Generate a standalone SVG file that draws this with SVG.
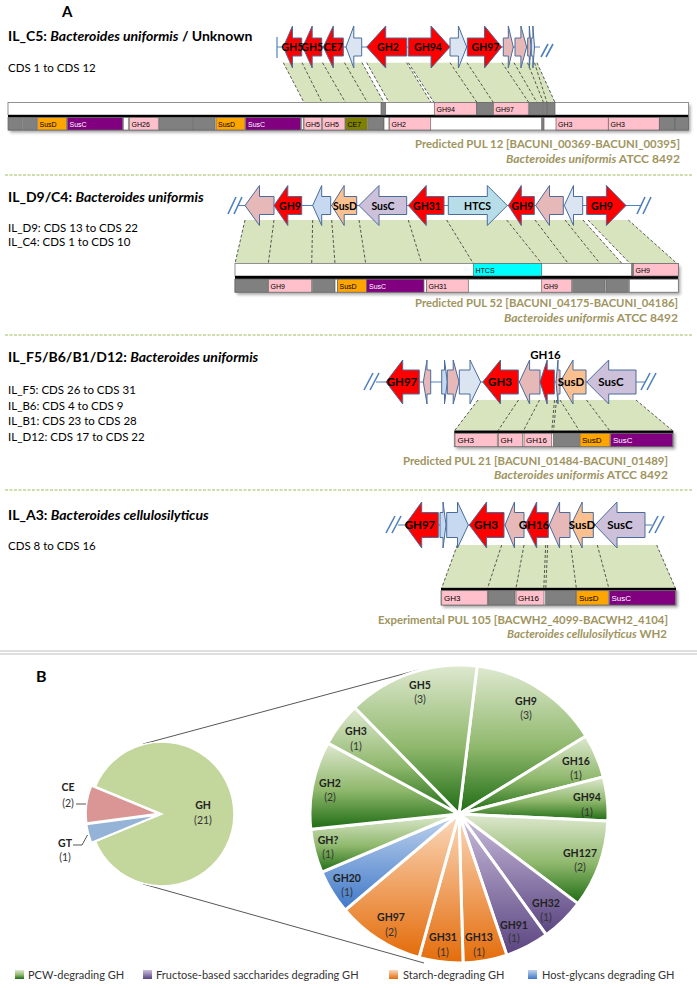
<svg xmlns="http://www.w3.org/2000/svg" width="697" height="988" viewBox="0 0 697 988">
<defs>
<style>
text{font-family:Lato,'Liberation Sans',sans-serif;fill:#000}
.ttl{font-size:14px;font-weight:bold}
.sub{font-size:11.5px}
.cap{font-size:11.5px;font-weight:bold;fill:#a0955f;text-anchor:end}
.al{font-size:10.5px;font-weight:bold;text-anchor:middle}
.al2{font-size:11.5px;font-weight:bold;text-anchor:middle}
.ml{font-family:'Liberation Sans',Arial,sans-serif;font-size:7px}
.ml2{font-family:'Liberation Sans',Arial,sans-serif;font-size:8px}
.mw{fill:#fff}
.ar{stroke:#4a6c9b;stroke-width:1}
.red{fill:#ff0000}.pk{fill:#e6b9b8}.lb{fill:#dbe5f1}.lb2{fill:#c6d9f1}.sd{fill:#fac090}.sc{fill:#ccc0da}.ht{fill:#b7dee8}
.bl{stroke:#4f81bd;stroke-width:1.2;fill:none}
.brk{stroke:#4f81bd;stroke-width:1.6;fill:none}
.gr{fill:#d7e4bd}
.ds{stroke:#333;stroke-width:0.8;stroke-dasharray:3,2;fill:none}
.ws{fill:#fff}
.sep{stroke:#9bbb59;stroke-width:1;stroke-dasharray:3,1.5}
.row{fill:#fff;stroke:#777;stroke-width:0.8}
.bx rect{stroke:#666;stroke-width:0.7}
.g{fill:#808080}.p{fill:#ffc0cb}.o{fill:#ffa500}.pu{fill:#800080}.ol{fill:#808000}.cy{fill:#00ffff}.w{fill:#fff}
.sl{stroke:#fff;stroke-width:3;stroke-linejoin:round}
.pl{font-size:10.5px;font-weight:bold;text-anchor:middle;fill:#222}
.pc{font-size:10.5px;text-anchor:middle;fill:#333}
.lg{font-size:11px;fill:#333}
.cl{stroke:#444;stroke-width:0.9;fill:none}
</style>
<filter id="sh" x="-5%" y="-60%" width="110%" height="220%"><feDropShadow dx="2" dy="2.5" stdDeviation="1.5" flood-color="#000" flood-opacity="0.35"/></filter>
<linearGradient id="gG" x1="0" y1="0" x2="0" y2="1"><stop offset="0" stop-color="#dfe9d0"/><stop offset="0.55" stop-color="#8fb86c"/><stop offset="1" stop-color="#1d6b12"/></linearGradient>
<linearGradient id="gP" x1="0" y1="0" x2="0" y2="1"><stop offset="0" stop-color="#cbbfdd"/><stop offset="1" stop-color="#5a4480"/></linearGradient>
<linearGradient id="gO" x1="0" y1="0" x2="0" y2="1"><stop offset="0" stop-color="#fbd9bd"/><stop offset="1" stop-color="#e46c0a"/></linearGradient>
<linearGradient id="gB" x1="0" y1="0" x2="0" y2="1"><stop offset="0" stop-color="#c0d4ee"/><stop offset="1" stop-color="#3f78c8"/></linearGradient>
</defs>
<rect width="697" height="988" fill="#fff"/>

<text x="62" y="17" style="font-size:15px;font-weight:bold">A</text>

<!-- separators -->
<g id="separators">
<line class="sep" x1="5" y1="175" x2="692" y2="175"/>
<line class="sep" x1="5" y1="335" x2="692" y2="335"/>
<line class="sep" x1="5" y1="490" x2="692" y2="490"/>
<line x1="0" y1="651" x2="697" y2="651" stroke="#bfbfbf" stroke-width="1"/>
<line x1="0" y1="654" x2="697" y2="654" stroke="#bfbfbf" stroke-width="1"/>
</g>

<!-- Section 1 -->
<g id="sec1-text">
<text class="ttl" x="8" y="41">IL_C5: <tspan font-style="italic">Bacteroides uniformis</tspan> / Unknown</text>
<text class="sub" x="8" y="72">CDS 1 to CDS 12</text>
<text class="cap" x="680" y="148" textLength="265" lengthAdjust="spacingAndGlyphs">Predicted PUL 12 [BACUNI_00369-BACUNI_00395]</text>
<text class="cap" x="680" y="162.5" textLength="174" lengthAdjust="spacingAndGlyphs"><tspan font-style="italic">Bacteroides uniformis</tspan> ATCC 8492</text>
</g>
<g id="sec1-connectors">
<polygon class="gr" points="283.3,62.7 537,62.7 555,102.5 304,102.5"/>
<polygon class="ws" points="362,62.7 366.7,62.7 389,102.5 384,102.5"/>
<polygon class="ws" points="406.7,62.7 408.3,62.7 434,102.5 431,102.5"/>
<path class="ds" d="M283.3,62.7L304,102.5M302,62.7L322,102.5M322.5,62.7L345.5,102.5M344.5,62.7L367.5,102.5M362,62.7L384,102.5M366.7,62.7L389,102.5M406.7,62.7L431,102.5M408.3,62.7L434,102.5M450,62.7L477,102.5M467,62.7L493.3,102.5M502,62.7L528.8,102.5M514,62.7L537,102.5M527.5,62.7L543.5,102.5M534.5,62.7L547,102.5M537,62.7L555,102.5"/>
</g>
<g id="sec1-genes">
<line class="bl" x1="277" y1="47" x2="540" y2="47"/>
<line class="bl" x1="277" y1="37" x2="277" y2="58"/>
<path class="brk" d="M541,57L548,44M546,57L553,44"/>
<g class="ar">
<polygon class="red" points="283.3,47 292.5,26 292.5,38 301.7,38 301.7,56 292.5,56 292.5,68"/>
<polygon class="red" points="302.7,47 312.2,26 312.2,38 321.7,38 321.7,56 312.2,56 312.2,68"/>
<polygon class="red" points="323.3,47 333.3,26 333.3,38 343.3,38 343.3,56 333.3,56 333.3,68"/>
<polygon class="lb" points="346,47 353.8,26 353.8,38 361.7,38 361.7,56 353.8,56 353.8,68"/>
<polygon class="red" points="366.7,47 385.7,26 385.7,38 406.7,38 406.7,56 385.7,56 385.7,68"/>
<polygon class="red" points="450,47 431,26 431,38 408.3,38 408.3,56 431,56 431,68"/>
<polygon class="lb" points="466.7,47 458.4,26 458.4,38 450,38 450,56 458.4,56 458.4,68"/>
<polygon class="red" points="501.7,47 484.5,26 484.5,38 467.3,38 467.3,56 484.5,56 484.5,68"/>
<polygon class="pk" points="513.3,47 508.3,26 508.3,38 503.3,38 503.3,56 508.3,56 508.3,68"/>
<polygon class="pk" points="526.7,47 520.9,26 520.9,38 515,38 515,56 520.9,56 520.9,68"/>
<polygon class="pk" points="531,47 529.3,26 529.3,38 527.7,38 527.7,56 529.3,56 529.3,68"/>
<polygon class="lb" points="534.5,47 532.9,26 532.9,38 531.3,38 531.3,56 532.9,56 532.9,68"/>
</g>
<text class="al" x="292.5" y="51">GH5</text>
<text class="al" x="312.2" y="51">GH5</text>
<text class="al" x="333.3" y="51">CE7</text>
<text class="al" x="388" y="51">GH2</text>
<text class="al" x="428" y="51">GH94</text>
<text class="al" x="485.5" y="51">GH97</text>
</g>
<g id="sec1-map">
<rect x="8" y="102.5" width="680.5" height="27.5" fill="#fff" filter="url(#sh)"/>
<rect class="row" x="8" y="102.5" width="680.5" height="12.5"/>
<rect x="8" y="115" width="680.5" height="2.5" fill="#000"/>
<rect class="row" x="8" y="117.5" width="680.5" height="12.5"/>
<g class="bx">
<rect class="g" x="381" y="102.5" width="4.7" height="12.5"/>
<rect class="p" x="434.3" y="102.5" width="42.4" height="12.5"/>
<rect class="g" x="476.7" y="102.5" width="16.6" height="12.5"/>
<rect class="p" x="493.3" y="102.5" width="35" height="12.5"/>
<rect class="g" x="529.3" y="102.5" width="13.4" height="12.5"/>
<rect class="g" x="543.5" y="102.5" width="3" height="12.5"/>
<rect class="g" x="547" y="102.5" width="8" height="12.5"/>
<rect class="g" x="8.5" y="117.5" width="13.2" height="12.5"/>
<rect class="g" x="22.7" y="117.5" width="14" height="12.5"/>
<rect class="o" x="37.7" y="117.5" width="29" height="12.5"/>
<rect class="pu" x="67.3" y="117.5" width="55.4" height="12.5"/>
<rect class="w" x="123.3" y="117.5" width="5" height="12.5"/>
<rect class="p" x="129.3" y="117.5" width="29" height="12.5"/>
<rect class="g" x="159.3" y="117.5" width="33.4" height="12.5"/>
<rect class="g" x="193.3" y="117.5" width="21.7" height="12.5"/>
<rect class="o" x="216" y="117.5" width="29" height="12.5"/>
<rect class="pu" x="245.7" y="117.5" width="55" height="12.5"/>
<rect class="w" x="301.7" y="117.5" width="1.6" height="12.5"/>
<rect class="p" x="304" y="117.5" width="17.7" height="12.5"/>
<rect class="p" x="322.7" y="117.5" width="22.3" height="12.5"/>
<rect class="ol" x="345.5" y="117.5" width="21.8" height="12.5"/>
<rect class="g" x="368.3" y="117.5" width="15.7" height="12.5"/>
<rect class="w" x="384" y="117.5" width="5" height="12.5"/>
<rect class="p" x="389.3" y="117.5" width="41.4" height="12.5"/>
<rect class="g" x="541.7" y="117.5" width="2.3" height="12.5"/>
<rect class="p" x="556" y="117.5" width="52.3" height="12.5"/>
<rect class="p" x="608.3" y="117.5" width="51" height="12.5"/>
<rect class="g" x="659.3" y="117.5" width="15.7" height="12.5"/>
<rect class="g" x="675" y="117.5" width="13.5" height="12.5"/>
</g>
<text class="ml" x="436.5" y="111.5">GH94</text>
<text class="ml" x="495.5" y="111.5">GH97</text>
<text class="ml" x="39.5" y="126.5">SusD</text>
<text class="ml mw" x="69.5" y="126.5">SusC</text>
<text class="ml" x="131.5" y="126.5">GH26</text>
<text class="ml" x="218" y="126.5">SusD</text>
<text class="ml mw" x="248" y="126.5">SusC</text>
<text class="ml" x="305.5" y="126.5">GH5</text>
<text class="ml" x="324.5" y="126.5">GH5</text>
<text class="ml" x="347.5" y="126.5">CE7</text>
<text class="ml" x="391.5" y="126.5">GH2</text>
<text class="ml" x="558" y="126.5">GH3</text>
<text class="ml" x="610.5" y="126.5">GH3</text>
</g>

<!-- Section 2 -->
<g id="sec2-text">
<text class="ttl" x="8" y="202">IL_D9/C4: <tspan font-style="italic">Bacteroides uniformis</tspan></text>
<text class="sub" x="8" y="232">IL_D9: CDS 13 to CDS 22</text>
<text class="sub" x="8" y="246">IL_C4: CDS 1 to CDS 10</text>
<text class="cap" x="678" y="307" textLength="263" lengthAdjust="spacingAndGlyphs">Predicted PUL 52 [BACUNI_04175-BACUNI_04186]</text>
<text class="cap" x="678" y="321.5" textLength="174" lengthAdjust="spacingAndGlyphs"><tspan font-style="italic">Bacteroides uniformis</tspan> ATCC 8492</text>
</g>
<g id="sec2-connectors">
<polygon class="gr" points="245,220 628.3,220 677,263.5 235,263.5"/>
<polygon class="ws" points="583,220 588,220 630,263.5 622,263.5"/>
<path class="ds" d="M245,220L235,263.5M274,220L268.3,263.5M312.7,220L311.7,263.5M331.7,220L335,263.5M359,220L365.7,263.5M408.3,220L421.7,263.5M446.7,220L473.3,263.5M506.7,220L541.7,263.5M535,220L568.3,263.5M565,220L600,263.5M583,220L622,263.5M588,220L630,263.5M628.3,220L677,263.5"/>
</g>
<g id="sec2-genes">
<line class="bl" x1="238" y1="205.5" x2="642" y2="205.5"/>
<path class="brk" d="M228,214L236,197M234,214L242,197M637,214L645,197M643,214L651,197"/>
<g class="ar">
<polygon class="pk" points="245,205.5 259.5,185.5 259.5,196.5 274,196.5 274,214.5 259.5,214.5 259.5,225.5"/>
<polygon class="red" points="274,205.5 287.8,185.5 287.8,196.5 301.7,196.5 301.7,214.5 287.8,214.5 287.8,225.5"/>
<polygon class="lb2" points="312.7,205.5 321.7,185.5 321.7,196.5 330.7,196.5 330.7,214.5 321.7,214.5 321.7,225.5"/>
<polygon class="sd" points="331.7,205.5 344.2,185.5 344.2,196.5 356.7,196.5 356.7,214.5 344.2,214.5 344.2,225.5"/>
<polygon class="sc" points="359,205.5 379,185.5 379,196.5 406.7,196.5 406.7,214.5 379,214.5 379,225.5"/>
<polygon class="red" points="408.3,205.5 426.2,185.5 426.2,196.5 444,196.5 444,214.5 426.2,214.5 426.2,225.5"/>
<polygon class="ht" points="507.3,205.5 487.3,185.5 487.3,196.5 448.3,196.5 448.3,214.5 487.3,214.5 487.3,225.5"/>
<polygon class="red" points="508.3,205.5 521.3,185.5 521.3,196.5 534.3,196.5 534.3,214.5 521.3,214.5 521.3,225.5"/>
<polygon class="pk" points="535.7,205.5 549.5,185.5 549.5,196.5 563.3,196.5 563.3,214.5 549.5,214.5 549.5,225.5"/>
<polygon class="lb" points="564.3,205.5 573.5,185.5 573.5,196.5 582.7,196.5 582.7,214.5 573.5,214.5 573.5,225.5"/>
<polygon class="red" points="626,205.5 606.4,185.5 606.4,196.5 586.7,196.5 586.7,214.5 606.4,214.5 606.4,225.5"/>
</g>
<text class="al" x="290" y="209.5">GH9</text>
<text class="al" x="345" y="209.5">SusD</text>
<text class="al" x="383" y="209.5">SusC</text>
<text class="al" x="427" y="209.5">GH31</text>
<text class="al" x="477.5" y="209.5">HTCS</text>
<text class="al" x="522.5" y="209.5">GH9</text>
<text class="al" x="602" y="209.5">GH9</text>
</g>
<g id="sec2-map">
<rect x="235" y="263.5" width="443.3" height="28.7" fill="#fff" filter="url(#sh)"/>
<rect class="row" x="235" y="263.5" width="443.3" height="12.5"/>
<rect x="235" y="276" width="443.3" height="3.2" fill="#000"/>
<rect class="row" x="235" y="279.2" width="443.3" height="13"/>
<g class="bx">
<rect class="cy" x="473.3" y="263.5" width="68.4" height="12.5"/>
<rect class="g" x="631.7" y="263.5" width="1.6" height="12.5"/>
<rect class="p" x="633.3" y="263.5" width="45" height="12.5"/>
<rect class="g" x="235" y="279.2" width="33.3" height="13"/>
<rect class="p" x="268.3" y="279.2" width="43.4" height="13"/>
<rect class="g" x="312.7" y="279.2" width="22.3" height="13"/>
<rect class="w" x="335" y="279.2" width="2.7" height="13"/>
<rect class="o" x="337.7" y="279.2" width="29" height="13"/>
<rect class="pu" x="366.7" y="279.2" width="57.3" height="13"/>
<rect class="w" x="424" y="279.2" width="2.7" height="13"/>
<rect class="p" x="426.7" y="279.2" width="41.6" height="13"/>
<rect class="p" x="541.7" y="279.2" width="30" height="13"/>
<rect class="g" x="572.7" y="279.2" width="32.3" height="13"/>
<rect class="g" x="606" y="279.2" width="22.3" height="13"/>
<rect class="w" x="629.3" y="279.2" width="49" height="13"/>
</g>
<text class="ml" x="475.5" y="272.5">HTCS</text>
<text class="ml" x="635.5" y="272.5">GH9</text>
<text class="ml" x="270.5" y="288.5">GH9</text>
<text class="ml" x="339.5" y="288.5">SusD</text>
<text class="ml mw" x="369" y="288.5">SusC</text>
<text class="ml" x="428.5" y="288.5">GH31</text>
<text class="ml" x="543.5" y="288.5">GH9</text>
</g>

<!-- Section 3 -->
<g id="sec3-text">
<text class="ttl" x="8" y="362">IL_F5/B6/B1/D12:  <tspan font-style="italic">Bacteroides uniformis</tspan></text>
<text class="sub" x="8" y="394">IL_F5: CDS 26 to CDS 31</text>
<text class="sub" x="8" y="409.5">IL_B6: CDS 4 to CDS 9</text>
<text class="sub" x="8" y="425">IL_B1: CDS 23 to CDS 28</text>
<text class="sub" x="8" y="441">IL_D12: CDS 17 to CDS 22</text>
<text class="cap" x="668" y="465" textLength="265" lengthAdjust="spacingAndGlyphs">Predicted PUL 21 [BACUNI_01484-BACUNI_01489]</text>
<text class="cap" x="668" y="479" textLength="174" lengthAdjust="spacingAndGlyphs"><tspan font-style="italic">Bacteroides uniformis</tspan> ATCC 8492</text>
</g>
<g id="sec3-connectors">
<polygon class="gr" points="478,400 636,400 673,431 454.3,431"/>
<path class="ds" d="M478,400L454.3,431M518.5,400L497.8,431M539.5,400L523.3,431M554.5,400L551.8,431M556.5,400L553.5,431M560,400L579.5,431M586.5,400L610,431M636,400L673,431"/>
</g>
<g id="sec3-genes">
<line class="bl" x1="376" y1="382" x2="645" y2="382"/>
<path class="brk" d="M364,390L373,373M370,390L379,373M641,390L650,373M647,390L656,373"/>
<g class="ar">
<polygon class="red" points="386,382 402.7,360 402.7,370 419.3,370 419.3,394 402.7,394 402.7,404"/>
<polygon class="pk" points="423.3,382 427,360 427,370 430.7,370 430.7,394 427,394 427,404"/>
<polygon class="lb2" points="447.3,382 444.5,360 444.5,370 441.7,370 441.7,394 444.5,394 444.5,404"/>
<polygon class="pk" points="459,382 453.2,360 453.2,370 447.3,370 447.3,394 453.2,394 453.2,404"/>
<polygon class="lb" points="480.7,382 470,360 470,370 459.3,370 459.3,394 470,394 470,404"/>
<polygon class="red" points="482.7,382 500.5,360 500.5,370 518.3,370 518.3,394 500.5,394 500.5,404"/>
<polygon class="pk" points="519.3,382 529.6,360 529.6,370 540,370 540,394 529.6,394 529.6,404"/>
<polygon class="red" points="540,382 547.2,360 547.2,370 554.3,370 554.3,394 547.2,394 547.2,404"/>
<polygon class="pk" points="556,382 558,360 558,370 560,370 560,394 558,394 558,404"/>
<polygon class="sd" points="560,382 573,360 573,370 586,370 586,394 573,394 573,404"/>
<polygon class="sc" points="586.7,382 608.7,360 608.7,370 636,370 636,394 608.7,394 608.7,404"/>
</g>
<text class="al2" x="402" y="386">GH97</text>
<text class="al2" x="500" y="386">GH3</text>
<text class="al2" x="545.5" y="359">GH16</text>
<text class="al2" x="571" y="386">SusD</text>
<text class="al2" x="611" y="386">SusC</text>
</g>
<g id="sec3-map">
<rect x="454.3" y="430.5" width="219" height="16.2" fill="#fff" filter="url(#sh)"/>
<rect x="454.3" y="430.5" width="219" height="3" fill="#000"/>
<rect class="row" x="454.3" y="433.3" width="219" height="13.4"/>
<g class="bx">
<rect class="p" x="455" y="433.3" width="42.3" height="13.4"/>
<rect class="p" x="498.3" y="433.3" width="24.4" height="13.4"/>
<rect class="p" x="524" y="433.3" width="27.7" height="13.4"/>
<rect class="g" x="553.3" y="433.3" width="26" height="13.4"/>
<rect class="o" x="580" y="433.3" width="30" height="13.4"/>
<rect class="pu" x="610.7" y="433.3" width="62" height="13.4"/>
</g>
<text class="ml2" x="457.5" y="443">GH3</text>
<text class="ml2" x="500.5" y="443">GH</text>
<text class="ml2" x="526" y="443">GH16</text>
<text class="ml2" x="582" y="443">SusD</text>
<text class="ml2 mw" x="613" y="443">SusC</text>
</g>

<!-- Section 4 -->
<g id="sec4-text">
<text class="ttl" x="8" y="520">IL_A3: <tspan font-style="italic">Bacteroides cellulosilyticus</tspan></text>
<text class="sub" x="8" y="550">CDS 8 to CDS 16</text>
<text class="cap" x="668" y="624" textLength="290" lengthAdjust="spacingAndGlyphs">Experimental PUL 105 [BACWH2_4099-BACWH2_4104]</text>
<text class="cap" x="667" y="638"><tspan font-style="italic">Bacteroides cellulosilyticus</tspan> WH2</text>
</g>
<g id="sec4-connectors">
<polygon class="gr" points="457.3,545 656.7,545 675.5,588 441.5,588"/>
<path class="ds" d="M457.3,545L441.7,588M501.7,545L487.6,588M524,545L516,588M545.7,545L543.8,588M547.7,545L545.8,588M570.7,545L576.3,588M597.3,545L608.8,588M656.7,545L675.3,588"/>
</g>
<g id="sec4-genes">
<line class="bl" x1="398" y1="525" x2="652" y2="525"/>
<path class="brk" d="M386,533L395,516M392,533L401,516M649,533L658,516M655,533L664,516"/>
<g class="ar">
<polygon class="red" points="405,525 421.7,502 421.7,512.5 438.3,512.5 438.3,537.5 421.7,537.5 421.7,548"/>
<polygon class="lb2" points="446,525 443,502 443,512.5 440,512.5 440,537.5 443,537.5 443,548"/>
<polygon class="lb2" points="468.3,525 457.5,502 457.5,512.5 446.7,512.5 446.7,537.5 457.5,537.5 457.5,548"/>
<polygon class="red" points="469.3,525 486.6,502 486.6,512.5 504,512.5 504,537.5 486.6,537.5 486.6,548"/>
<polygon class="pk" points="505,525 514.5,502 514.5,512.5 524,512.5 524,537.5 514.5,537.5 514.5,548"/>
<polygon class="red" points="525,525 536.7,502 536.7,512.5 548.3,512.5 548.3,537.5 536.7,537.5 536.7,548"/>
<polygon class="pk" points="549.3,525 559.6,502 559.6,512.5 570,512.5 570,537.5 559.6,537.5 559.6,548"/>
<polygon class="sd" points="571,525 582.2,502 582.2,512.5 593.3,512.5 593.3,537.5 582.2,537.5 582.2,548"/>
<polygon class="sc" points="595,525 617,502 617,512.5 645,512.5 645,537.5 617,537.5 617,548"/>
</g>
<text class="al2" x="420" y="529">GH97</text>
<text class="al2" x="486" y="529">GH3</text>
<text class="al2" x="534" y="529">GH16</text>
<text class="al2" x="582" y="529">SusD</text>
<text class="al2" x="620" y="529">SusC</text>
</g>
<g id="sec4-map">
<rect x="441" y="587.8" width="235" height="17.2" fill="#fff" filter="url(#sh)"/>
<rect x="441" y="587.8" width="235" height="3" fill="#000"/>
<rect class="row" x="441" y="590.7" width="235" height="14.3"/>
<g class="bx">
<rect class="p" x="441.7" y="590.7" width="45.6" height="14.3"/>
<rect class="g" x="488" y="590.7" width="27" height="14.3"/>
<rect class="p" x="516" y="590.7" width="28" height="14.3"/>
<rect class="g" x="545.7" y="590.7" width="30.3" height="14.3"/>
<rect class="o" x="576.7" y="590.7" width="31.6" height="14.3"/>
<rect class="pu" x="609.3" y="590.7" width="66" height="14.3"/>
</g>
<text class="ml2" x="444" y="601">GH3</text>
<text class="ml2" x="518" y="601">GH16</text>
<text class="ml2" x="579" y="601">SusD</text>
<text class="ml2 mw" x="611.5" y="601">SusC</text>
</g>

<!-- Panel B -->
<text x="36" y="682" style="font-size:16px;font-weight:bold">B</text>
<g id="zoom-lines">
<line class="cl" x1="143" y1="744" x2="418" y2="670"/>
<line class="cl" x1="143" y1="884" x2="424" y2="963"/>
</g>
<g id="small-pie">
<path d="M162,814 L95.48,841.55 A72,72 0 1 0 95.48,786.45 Z" fill="#c3d69b" stroke="#fff" stroke-width="1.5"/>
<path transform="translate(-4,-0.5)" d="M162,814 L95.48,786.45 A72,72 0 0 0 90.62,823.4 Z" fill="#d99694" stroke="#fff" stroke-width="1.5"/>
<path transform="translate(-4,1)" d="M162,814 L90.62,823.4 A72,72 0 0 0 95.48,841.55 Z" fill="#95b3d7" stroke="#fff" stroke-width="1.5"/>
<text class="pl" x="203" y="809">GH</text>
<text class="pc" x="203" y="824">(21)</text>
<text class="pl" x="68" y="790.5">CE</text>
<text class="pc" x="68" y="807">(2)</text>
<text class="pl" x="65" y="846.5">GT</text>
<text class="pc" x="65" y="860.5">(1)</text>
<path class="cl" d="M76,804H86"/>
<path class="cl" d="M73,845H82L87.5,835"/>
</g>
<g id="big-pie" class="sl">
<path fill="url(#gG)" d="M459,814 L477.16,666.11 A149,149 0 0 1 585.95,736 Z"/>
<path fill="url(#gG)" d="M459,814 L585.95,736 A149,149 0 0 1 603.31,776.87 Z"/>
<path fill="url(#gG)" d="M459,814 L603.31,776.87 A149,149 0 0 1 607.83,821.04 Z"/>
<path fill="url(#gG)" d="M459,814 L607.83,821.04 A149,149 0 0 1 577.99,903.67 Z"/>
<path fill="url(#gP)" d="M459,814 L577.99,903.67 A149,149 0 0 1 546.28,934.76 Z"/>
<path fill="url(#gP)" d="M459,814 L546.28,934.76 A149,149 0 0 1 506.8,955.13 Z"/>
<path fill="url(#gO)" d="M459,814 L506.8,955.13 A149,149 0 0 1 463.08,962.94 Z"/>
<path fill="url(#gO)" d="M459,814 L463.08,962.94 A149,149 0 0 1 419.01,957.53 Z"/>
<path fill="url(#gO)" d="M459,814 L419.01,957.53 A149,149 0 0 1 345.1,910.06 Z"/>
<path fill="url(#gB)" d="M459,814 L345.1,910.06 A149,149 0 0 1 321.85,872.21 Z"/>
<path fill="url(#gG)" d="M459,814 L321.85,872.21 A149,149 0 0 1 310.78,829.21 Z"/>
<path fill="url(#gG)" d="M459,814 L310.78,829.21 A149,149 0 0 1 327.97,743.06 Z"/>
<path fill="url(#gG)" d="M459,814 L327.97,743.06 A149,149 0 0 1 354.74,707.55 Z"/>
<path fill="url(#gG)" d="M459,814 L354.74,707.55 A149,149 0 0 1 477.16,666.11 Z"/>
</g>
<g id="big-pie-labels">
<text class="pl" x="420" y="689">GH5</text><text class="pc" x="420" y="703">(3)</text>
<text class="pl" x="526" y="704.5">GH9</text><text class="pc" x="526" y="719">(3)</text>
<text class="pl" x="356" y="734.5">GH3</text><text class="pc" x="356" y="750">(1)</text>
<text class="pl" x="576" y="764.5">GH16</text><text class="pc" x="576" y="779">(1)</text>
<text class="pl" x="330" y="787">GH2</text><text class="pc" x="330" y="801">(2)</text>
<text class="pl" x="587" y="800.5">GH94</text><text class="pc" x="587" y="815.5">(1)</text>
<text class="pl" x="328" y="844">GH?</text><text class="pc" x="328" y="858">(1)</text>
<text class="pl" x="580" y="856.5">GH127</text><text class="pc" x="580" y="871">(2)</text>
<text class="pl" x="347" y="882">GH20</text><text class="pc" x="347" y="896">(1)</text>
<text class="pl" x="546" y="907">GH32</text><text class="pc" x="546" y="921">(1)</text>
<text class="pl" x="391" y="921">GH97</text><text class="pc" x="391" y="936">(2)</text>
<text class="pl" x="514" y="929">GH91</text><text class="pc" x="514" y="942">(1)</text>
<text class="pl" x="443" y="940.5">GH31</text><text class="pc" x="443" y="956">(1)</text>
<text class="pl" x="479" y="940.5">GH13</text><text class="pc" x="479" y="956">(1)</text>
</g>
<g id="legend">
<rect x="15" y="970" width="9" height="9" fill="url(#gG)"/>
<text class="lg" x="28" y="979">PCW-degrading GH</text>
<rect x="143" y="970" width="9" height="9" fill="url(#gP)"/>
<text class="lg" x="156" y="979">Fructose-based saccharides degrading GH</text>
<rect x="389" y="970" width="9" height="9" fill="url(#gO)"/>
<text class="lg" x="403" y="979">Starch-degrading GH</text>
<rect x="528" y="970" width="9" height="9" fill="url(#gB)"/>
<text class="lg" x="542" y="979">Host-glycans degrading GH</text>
</g>
</svg>
